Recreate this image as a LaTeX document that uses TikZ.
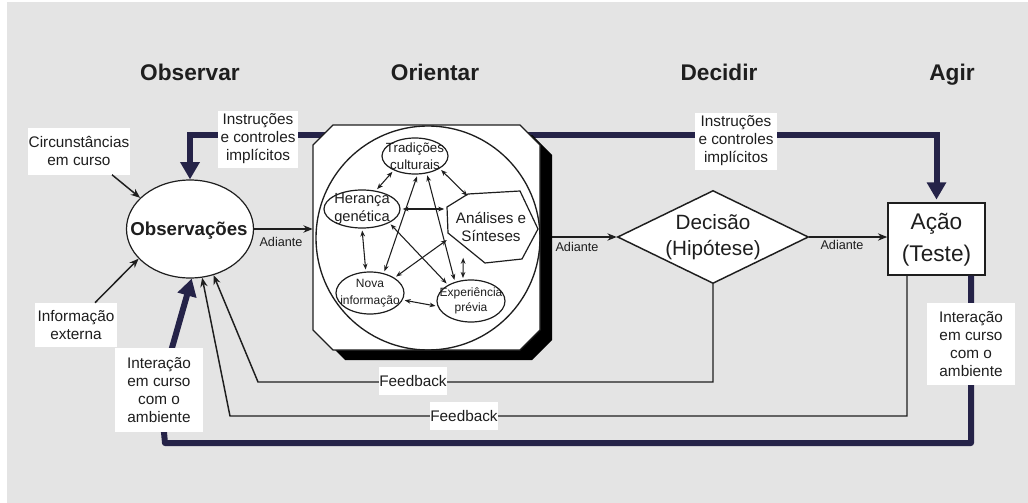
\documentclass[tikz,border=0pt]{standalone}
\usepackage{fontspec}
\setmainfont{Liberation Sans}
\usetikzlibrary{shapes.geometric,arrows.meta,calc}
\definecolor{bggray}{RGB}{228,228,228}
\definecolor{navy}{RGB}{37,35,72}
\definecolor{ink}{RGB}{30,30,30}
\begin{document}
\begin{tikzpicture}[x=0.75pt,y=-0.75pt,
 lbl/.style={fill=white, inner sep=0pt, align=center, text=ink, font=\fontsize{11.5}{13.5}\selectfont},
 ttl/.style={font=\bfseries\fontsize{17}{20}\selectfont, text=ink, anchor=base, inner sep=0pt},
 thinln/.style={draw=ink, line width=1.1pt},
 tip/.style={-{Stealth[length=7pt,width=5.5pt]}},
 navyline/.style={draw=navy, line width=4.5pt},
 bigtip/.style={-{Triangle[length=13pt,width=14pt]}},
 ell/.style={ellipse, draw=ink, line width=0.9pt, inner sep=0pt},
 dbl/.style={draw=ink, line width=0.8pt, {Stealth[length=4.5pt,width=3.5pt]}-{Stealth[length=4.5pt,width=3.5pt]}, shorten <=1.5pt, shorten >=1.5pt},
 adi/.style={font=\fontsize{9.5}{11}\selectfont, text=ink, inner sep=0pt}
]
\useasboundingbox (0,0) rectangle (1028,503);
\fill[white] (0,0) rectangle (1028,503);
\fill[bggray] (7,2) rectangle (1028,503);

% titles
\node[ttl] (t1) at (190,80) {Observar};
\node[ttl] (t2) at (435,80) {Orientar};
\node[ttl] (t3) at (719,80) {Decidir};
\node[ttl] (t4) at (952,80) {Agir};

% main nodes (shapes)
\node[ell, fill=white, minimum width={127*0.75pt}, minimum height={98*0.75pt}] (obs) at (190,229) {};
\node[inner sep=0pt, minimum width={227*0.75pt}, minimum height={225*0.75pt}] (ori) at (426.5,237.5) {};
\node[diamond, draw=ink, fill=white, line width=1.1pt, minimum width={191*0.75pt}, minimum height={93*0.75pt}, inner sep=0pt] (dec) at (713,237) {};
\node[draw=ink, fill=white, line width=1.1pt, minimum width={97*0.75pt}, minimum height={72*0.75pt}, inner sep=0pt] (act) at (936.5,239) {};

% thick navy lines
\coordinate (topL) at (190,135);
\coordinate (topR) at (936.5,135);
\draw[navyline, {Triangle[length=13pt,width=14pt]}-{Triangle[length=13pt,width=14pt]}, shorten >=2pt] (obs.north) -- (topL) -- (topR) -- (act.north);
\coordinate (botR) at (971,443);
\coordinate (botL) at (165,443);
\coordinate (botM) at (160,390);
\draw[navyline, line join=round, bigtip] ($(act.south)+(34.5,0)$) -- (botR) -- (botL) -- (botM) -- (obs.272);

% feedback lines
\coordinate (fb1) at (258,382);
\coordinate (fb2) at (230,416);
\draw[thinln, tip] (dec.south) |- (fb1) -- (obs.297);
\draw[thinln, tip] ($(act.south)+(-29.5,0)$) |- (fb2) -- (obs.284);

% forward arrows
\draw[thinln, tip] (obs.east) -- (obs.east -| ori.west);
\draw[thinln, tip] (ori.east |- dec.west) -- (dec.west);
\draw[thinln, tip] (dec.east) -- (dec.east -| act.west);

% Orientar octagon with shadow
\fill[black] (345,135) -- (532,135) -- (552,155) -- (552,340) -- (532,360) -- (345,360) -- (325,340) -- (325,155) -- cycle;
\draw[draw=ink, fill=white, line width=1pt] (333,125) -- (520,125) -- (540,145) -- (540,330) -- (520,350) -- (333,350) -- (313,330) -- (313,145) -- cycle;
\node[circle, draw=ink, line width=1pt, minimum size={224*0.75pt}, inner sep=0pt] (big) at (428,238) {};

% inner elements
\node[ell, minimum width={66*0.75pt}, minimum height={36*0.75pt}] (trad) at (415,156) {};
\node[ell, minimum width={76*0.75pt}, minimum height={38*0.75pt}] (her) at (362,209) {};
\node[ell, minimum width={68*0.75pt}, minimum height={42*0.75pt}] (nova) at (370,293) {};
\node[ell, minimum width={68*0.75pt}, minimum height={42*0.75pt}] (exp) at (471,301) {};
\node[ellipse, inner sep=0pt, minimum width={91*0.75pt}, minimum height={71*0.75pt}] (anal) at (492,228) {};
\draw[draw=ink, line width=0.9pt] (447,207) -- (468,194) -- (520,191) -- (538,229) -- (522,259) -- (485,263) -- (448,233) -- cycle;

\node[font=\fontsize{10}{12.75}\selectfont, align=center, text=ink, inner sep=0pt] (tradT) at (trad) {Tradições\\culturais};
\node[font=\fontsize{11}{13.5}\selectfont, align=center, text=ink, inner sep=0pt] (herT) at (her) {Herança\\genética};
\node[font=\fontsize{9}{12.75}\selectfont, align=center, text=ink, inner sep=0pt] (novaT) at (nova) {Nova\\informação};
\node[font=\fontsize{9}{11.25}\selectfont, align=center, text=ink, inner sep=0pt] (expT) at (exp) {Experiência\\prévia};
\node[font=\fontsize{11.4}{13.5}\selectfont, align=center, text=ink, inner sep=0pt] (analT) at (491,227) {Análises e\\Sínteses};

\draw[dbl] (trad.214) -- (her.53);
\draw[dbl] (trad.333) -- (anal.127);
\draw[dbl] (her.east) -- (her.east -| anal.west);
\draw[dbl] (her.270) -- (nova.101);
\draw[dbl] (nova.348) -- (exp.189);
\draw[dbl] (exp.111) -- (anal.224);
\draw[dbl] (trad.278) -- (nova.55);
\draw[dbl] (trad.304) -- (exp.130);
\draw[dbl] (her.333) -- (exp.145);
\draw[dbl] (nova.32.5) -- (anal.194);

% main texts
\node[font=\bfseries\fontsize{14}{16}\selectfont, text=ink, inner sep=0pt] (obsT) at (189,231) {Observações};
\node[font=\fontsize{15.5}{20}\selectfont, align=center, text=ink, inner sep=0pt] (decT) at (dec) {Decisão\\(Hipótese)};
\node[font=\fontsize{17}{24}\selectfont, align=center, text=ink, inner sep=0pt] (actT) at (936.5,240) {Ação\\(Teste)};

% external labels
\node[lbl, minimum width={102*0.75pt}, minimum height={47*0.75pt}] (circ) at (79,151) {Circunstâncias\\em curso};
\node[lbl, minimum width={82*0.75pt}, minimum height={44*0.75pt}] (info) at (76,325) {Informação\\externa};
\draw[thinln, tip] ($(circ.south)+(33,0)$) -- (obs.148);
\draw[thinln, tip] ($(info.north)+(19,0)$) -- (obs.210);

\node[lbl, minimum width={80*0.75pt}, minimum height={57*0.75pt}] (insL) at (258,139) {Instruções\\e controles\\implícitos};
\node[lbl, minimum width={82*0.75pt}, minimum height={57*0.75pt}] (insR) at (736,141) {Instruções\\e controles\\implícitos};
\node[lbl, minimum width={88*0.75pt}, minimum height={84*0.75pt}] (intL) at (159,390) {Interação\\em curso\\com o\\ambiente};
\node[lbl, minimum width={88*0.75pt}, minimum height={82*0.75pt}] (intR) at (971,344) {Interação\\em curso\\com o\\ambiente};
\node[lbl, minimum width={67*0.75pt}, minimum height={28*0.75pt}] (fbL1) at (413,381) {Feedback};
\node[lbl, minimum width={68*0.75pt}, minimum height={28*0.75pt}] (fbL2) at (464,416) {Feedback};

\node[adi] (ad1) at (281,242) {Adiante};
\node[adi] (ad2) at (577,247) {Adiante};
\node[adi] (ad3) at (842,245) {Adiante};
\end{tikzpicture}
\end{document}
